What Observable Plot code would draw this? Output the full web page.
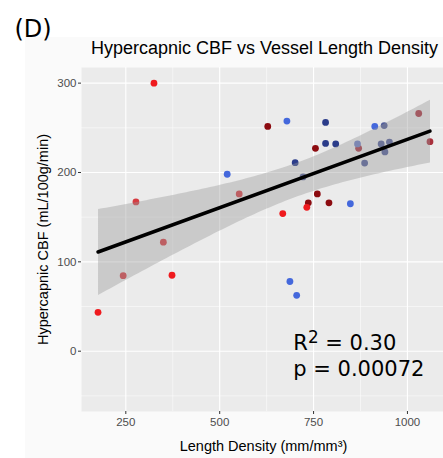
<!DOCTYPE html>
<html><head><meta charset="utf-8">
<script src="https://cdn.jsdelivr.net/npm/d3@7"></script>
<script src="https://cdn.jsdelivr.net/npm/@observablehq/plot@0.6"></script>
<style>
body{margin:0;background:#fff;}
#wrap{position:relative;width:443px;height:458px;overflow:hidden;}
#bg{position:absolute;left:25px;top:37px;right:0;bottom:0;background:#fafafa;}
#chart{position:absolute;left:0;top:0;}
</style></head><body><div id="wrap"><div id="bg"></div><div id="chart"></div></div>
<script>
// Length density (mm/mm^3)
const lengthDensity = [325, 277, 350, 552, 243, 373, 176, 628, 1030, 1060, 870, 755, 760, 736, 732, 791, 668,
                       520, 687, 705, 679, 782, 913, 938, 782, 809, 867, 930, 952, 940, 701, 886, 722, 848];
// Hypercapnic CBF (mL/100g/min)
const cbf = [300, 167, 122, 176, 84.5, 85, 43.5, 251.5, 266, 234.5, 227, 227, 176, 166, 161, 166, 154,
             198, 78, 62.5, 257.5, 256, 251.5, 252.5, 232.5, 232, 232, 232, 234, 223, 211, 210.5, 195, 165];
// colour group of each point
const shade = ["r1","r2","r2","r2","r2","r1","r1","r4","r3","r3","r3","r4","r4","r4","r1","r4","r1",
               "b1","b1","b1","b1","b4","b1","b3","b4","b4","b2","b3","b3","b3","b4","b3","b3","b1"];
const shadeLevels = ["r1","r2","r3","r4","b1","b2","b3","b4"];
const shadeColors = ["#ef1a1e","#d63a40","#a8303c","#8c0b10","#4468dc","#6a7cc4","#4f5b98","#2b3c8a"];

const xTicks = [250, 500, 750, 1000];
const xMinor = [375, 625, 875];
const yTicks = [0, 100, 200, 300];
const yMinor = [-50, 50, 150, 250];
const stats = ["R2 = 0.30", "p = 0.00072"];
const statsPos = {x: 696, y: 23};

const data = lengthDensity.map((x, i) => ({x, y: cbf[i], shade: shade[i]}));

const font = "'Liberation Sans', Arial, sans-serif";
const plot = Plot.plot({
  width: 443, height: 458,
  marginLeft: 81, marginRight: 0, marginTop: 67, marginBottom: 47,
  style: {background: "transparent", fontFamily: font, overflow: "visible"},
  x: {domain: [132, 1104], range: [81, 446]},
  y: {domain: [-67.5, 317.5]},
  color: {domain: shadeLevels, range: shadeColors},
  marks: [
    Plot.frame({fill: "#ebebeb", stroke: null}),
    Plot.gridX(xMinor, {stroke: "white", strokeOpacity: 1, strokeWidth: 0.5}),
    Plot.gridY(yMinor, {stroke: "white", strokeOpacity: 1, strokeWidth: 0.5}),
    Plot.gridX(xTicks, {stroke: "white", strokeOpacity: 1, strokeWidth: 1.1}),
    Plot.gridY(yTicks, {stroke: "white", strokeOpacity: 1, strokeWidth: 1.1}),
    Plot.axisX(xTicks, {tickSize: 3, tickPadding: 3, fontSize: 11.5, stroke: "#333", fill: "#4d4d4d", label: null, tickFormat: d3.format("d")}),
    Plot.axisY(yTicks, {tickSize: 3, tickPadding: 2, fontSize: 11.5, stroke: "#333", fill: "#4d4d4d", label: null, tickFormat: d3.format("d")}),
    Plot.dot(data, {x: "x", y: "y", fill: "shade", r: 3.4, stroke: null}),
    Plot.linearRegressionY(data, {x: "x", y: "y", stroke: "black", strokeWidth: 3.5, fill: "#999999", fillOpacity: 0.4, ci: 0.95}),
    Plot.text([stats.join("\n")], {x: () => statsPos.x, y: () => statsPos.y, textAnchor: "start", lineAnchor: "top",
      fontSize: 21, lineHeight: 1.27, fill: "black", fontFamily: "'DejaVu Sans', sans-serif", className: "stats"}),
    Plot.text(["Hypercapnic CBF vs Vessel Length Density"], {frameAnchor: "top", lineAnchor: "middle", dy: -19.5, dx: 2,
      fontSize: 18, fill: "black"}),
    Plot.text(["Length Density (mm/mm\u00B3)"], {frameAnchor: "bottom", lineAnchor: "middle", dy: 35, dx: 1,
      fontSize: 14.5, fill: "black"}),
    Plot.text(["Hypercapnic CBF (mL/100g/min)"], {frameAnchor: "left", textAnchor: "middle", lineAnchor: "middle", rotate: -90, dx: -38,
      fontSize: 14.5, fill: "black"}),
    Plot.text(["(D)"], {frameAnchor: "top-left", textAnchor: "start", lineAnchor: "middle", dx: -67, dy: -38,
      fontSize: 24, fill: "black", fontFamily: "'DejaVu Sans', sans-serif"})
  ]
});
// raise the "2" of R2 as a superscript
plot.querySelectorAll("tspan").forEach(t => {
  if (t.textContent === stats[0]) {
    const ns = "http://www.w3.org/2000/svg";
    t.textContent = "R";
    const sup = document.createElementNS(ns, "tspan");
    sup.setAttribute("dy", "-0.42em"); sup.setAttribute("font-size", "0.8em"); sup.textContent = "2";
    const rest = document.createElementNS(ns, "tspan");
    rest.setAttribute("dy", "0.336em"); rest.textContent = stats[0].slice(2);
    t.appendChild(sup); t.appendChild(rest);
  }
});
document.getElementById("chart").appendChild(plot);
</script></body></html>
